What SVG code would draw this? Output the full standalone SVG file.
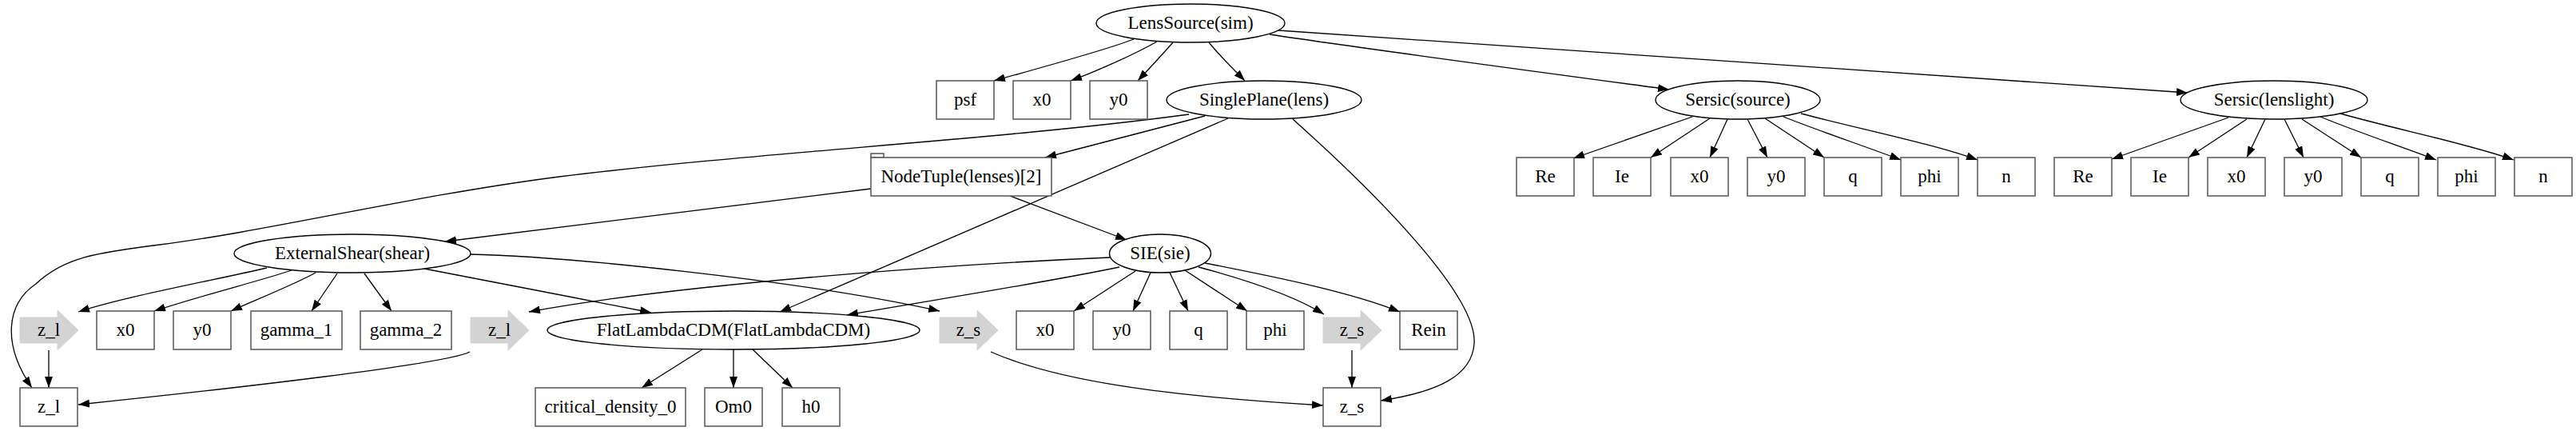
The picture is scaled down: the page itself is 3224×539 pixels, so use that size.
<svg xmlns="http://www.w3.org/2000/svg" width="3224" height="539" viewBox="0 0 3224 539">
<defs>
<marker id="ah" viewBox="0 0 14 10" refX="14" refY="5" markerWidth="14" markerHeight="10" markerUnits="userSpaceOnUse" orient="auto">
<path d="M0,0 L14,5 L0,10 z" fill="#000"/>
</marker>
<style>
.e{fill:none;stroke:#000;stroke-width:1.3;marker-end:url(#ah)}
.b{fill:#fff;stroke:#555;stroke-width:1.5}
.el{fill:#fff;stroke:#000;stroke-width:1.4}
.ra{fill:#d3d3d3;stroke:#d3d3d3;stroke-width:1}
text{font-family:"Liberation Serif","Times New Roman",serif;font-size:23px;text-anchor:middle;fill:#000}
</style>
</defs>
<rect width="3224" height="539" fill="#fff"/>
<g id="connectors">
<path class="e" d="M1419,49 C1380,64 1290,88 1244,101"/>
<path class="e" d="M1448,52 C1420,68 1370,90 1340,101"/>
<path class="e" d="M1468,53 C1455,68 1438,86 1424,101"/>
<path class="e" d="M1513,53 C1525,68 1545,88 1558,101"/>
<path class="e" d="M1589,43 C1700,60 1950,93 2089,112"/>
<path class="e" d="M1600,38 C1900,58 2400,93 2738,116"/>
<path class="e" d="M1508,145 L1308,197"/>
<path class="e" d="M1537,148 L976,390"/>
<path class="e" d="M1488,143 C1250,175 950,190 700,221 C520,244 330,290 200,306 C120,316 80,322 45,355 C8,380 2,430 40,485"/>
<path class="e" d="M1618,149 C1720,240 1850,370 1845,430 C1842,470 1800,490 1728,501"/>
<path class="e" d="M1090,236 L557,302"/>
<path class="e" d="M1264,245 L1410,300"/>
<path class="e" d="M334,335 C270,350 160,370 98,390"/>
<path class="e" d="M365,338 C330,350 250,370 193,389"/>
<path class="e" d="M395,341 C370,355 320,375 289,389"/>
<path class="e" d="M422,342 L390,389"/>
<path class="e" d="M456,342 L490,389"/>
<path class="e" d="M531,336 C600,350 720,372 815,391"/>
<path class="e" d="M587,318 C700,320 1000,350 1176,389"/>
<path class="e" d="M1389,322 C1200,330 850,355 662,390"/>
<path class="e" d="M1401,334 C1300,355 1150,378 1060,394"/>
<path class="e" d="M1421,339 L1344,389"/>
<path class="e" d="M1440,341 L1418,389"/>
<path class="e" d="M1464,341 L1487,389"/>
<path class="e" d="M1483,338 L1561,389"/>
<path class="e" d="M1500,334 C1560,350 1620,370 1657,393"/>
<path class="e" d="M1508,329 C1590,345 1690,365 1752,390"/>
<path class="e" d="M61,438 L61,485"/>
<path class="e" d="M588,440 C560,455 300,485 98,506"/>
<path class="e" d="M1240,440 C1320,475 1450,495 1656,507"/>
<path class="e" d="M1692,438 L1692,485"/>
<path class="e" d="M879,437 L803,485"/>
<path class="e" d="M918,437 L918,485"/>
<path class="e" d="M942,437 L992,485"/>
<path class="e" d="M2118,146 L1969,198"/>
<path class="e" d="M2140,148 L2066,197"/>
<path class="e" d="M2162,149 L2140,197"/>
<path class="e" d="M2187,149 L2212,197"/>
<path class="e" d="M2209,148 L2283,197"/>
<path class="e" d="M2232,146 C2280,165 2340,185 2379,200"/>
<path class="e" d="M2254,142 C2330,162 2420,180 2475,200"/>
<path class="e" d="M2789,147 L2643,199"/>
<path class="e" d="M2812,149 L2739,197"/>
<path class="e" d="M2835,149 L2812,197"/>
<path class="e" d="M2859,149 L2883,197"/>
<path class="e" d="M2881,149 L2955,197"/>
<path class="e" d="M2904,146 C2950,165 3010,185 3049,200"/>
<path class="e" d="M2929,142 C3000,162 3090,180 3146,200"/>
</g>
<g id="n_lenssource"><ellipse class="el" cx="1490" cy="29" rx="118" ry="24"/><text x="1490" y="36">LensSource(sim)</text></g>
<g id="n_psf"><rect class="b" x="1172" y="101" width="72" height="48"/><text x="1208" y="132">psf</text></g>
<g id="n_x0"><rect class="b" x="1268" y="101" width="72" height="48"/><text x="1304" y="132">x0</text></g>
<g id="n_y0"><rect class="b" x="1364" y="101" width="72" height="48"/><text x="1400" y="132">y0</text></g>
<g id="n_singleplane"><ellipse class="el" cx="1582" cy="125" rx="122" ry="24"/><text x="1582" y="132">SinglePlane(lens)</text></g>
<g id="n_sersic_source"><ellipse class="el" cx="2175" cy="125" rx="103" ry="24"/><text x="2175" y="132">Sersic(source)</text></g>
<g id="n_sersic_lenslight"><ellipse class="el" cx="2846" cy="125" rx="117" ry="24"/><text x="2846" y="132">Sersic(lenslight)</text></g>
<g id="n_nodetuple"><rect class="b" x="1090" y="192" width="16" height="5"/><rect class="b" x="1090" y="197" width="226" height="48"/><text x="1203" y="228">NodeTuple(lenses)[2]</text></g>
<g id="n_src_Re"><rect class="b" x="1898" y="197" width="72" height="48"/><text x="1934" y="228">Re</text></g>
<g id="n_src_Ie"><rect class="b" x="1994" y="197" width="72" height="48"/><text x="2030" y="228">Ie</text></g>
<g id="n_src_x0"><rect class="b" x="2091" y="197" width="72" height="48"/><text x="2127" y="228">x0</text></g>
<g id="n_src_y0"><rect class="b" x="2187" y="197" width="72" height="48"/><text x="2223" y="228">y0</text></g>
<g id="n_src_q"><rect class="b" x="2283" y="197" width="72" height="48"/><text x="2319" y="228">q</text></g>
<g id="n_src_phi"><rect class="b" x="2379" y="197" width="72" height="48"/><text x="2415" y="228">phi</text></g>
<g id="n_src_n"><rect class="b" x="2475" y="197" width="72" height="48"/><text x="2511" y="228">n</text></g>
<g id="n_ll_Re"><rect class="b" x="2571" y="197" width="72" height="48"/><text x="2607" y="228">Re</text></g>
<g id="n_ll_Ie"><rect class="b" x="2667" y="197" width="72" height="48"/><text x="2703" y="228">Ie</text></g>
<g id="n_ll_x0"><rect class="b" x="2763" y="197" width="72" height="48"/><text x="2799" y="228">x0</text></g>
<g id="n_ll_y0"><rect class="b" x="2859" y="197" width="72" height="48"/><text x="2895" y="228">y0</text></g>
<g id="n_ll_q"><rect class="b" x="2955" y="197" width="72" height="48"/><text x="2991" y="228">q</text></g>
<g id="n_ll_phi"><rect class="b" x="3051" y="197" width="72" height="48"/><text x="3087" y="228">phi</text></g>
<g id="n_ll_n"><rect class="b" x="3147" y="197" width="72" height="48"/><text x="3183" y="228">n</text></g>
<g id="n_shear"><ellipse class="el" cx="441" cy="317" rx="148" ry="24"/><text x="441" y="324">ExternalShear(shear)</text></g>
<g id="n_sie"><ellipse class="el" cx="1452" cy="317" rx="63.5" ry="24"/><text x="1452" y="324">SIE(sie)</text></g>
<g id="n_shear_zl"><polygon class="ra" points="25,397 72,397 72,388 98,413 72,438 72,429 25,429"/><text x="61" y="420">z_l</text></g>
<g id="n_shear_x0"><rect class="b" x="121" y="389" width="72" height="48"/><text x="157" y="420">x0</text></g>
<g id="n_shear_y0"><rect class="b" x="217" y="389" width="72" height="48"/><text x="253" y="420">y0</text></g>
<g id="n_gamma1"><rect class="b" x="314" y="389" width="114" height="48"/><text x="371" y="420">gamma_1</text></g>
<g id="n_gamma2"><rect class="b" x="451" y="389" width="114" height="48"/><text x="508" y="420">gamma_2</text></g>
<g id="n_sie_zl"><polygon class="ra" points="589,397 636,397 636,388 662,413 636,438 636,429 589,429"/><text x="625" y="420">z_l</text></g>
<g id="n_cosmo"><ellipse class="el" cx="918" cy="413" rx="233" ry="24"/><text x="918" y="420">FlatLambdaCDM(FlatLambdaCDM)</text></g>
<g id="n_shear_zs"><polygon class="ra" points="1176,397 1223,397 1223,388 1249,413 1223,438 1223,429 1176,429"/><text x="1212" y="420">z_s</text></g>
<g id="n_sie_x0"><rect class="b" x="1272" y="389" width="72" height="48"/><text x="1308" y="420">x0</text></g>
<g id="n_sie_y0"><rect class="b" x="1368" y="389" width="72" height="48"/><text x="1404" y="420">y0</text></g>
<g id="n_sie_q"><rect class="b" x="1464" y="389" width="72" height="48"/><text x="1500" y="420">q</text></g>
<g id="n_sie_phi"><rect class="b" x="1560" y="389" width="72" height="48"/><text x="1596" y="420">phi</text></g>
<g id="n_sie_zs"><polygon class="ra" points="1656,397 1703,397 1703,388 1729,413 1703,438 1703,429 1656,429"/><text x="1692" y="420">z_s</text></g>
<g id="n_rein"><rect class="b" x="1752" y="389" width="72" height="48"/><text x="1788" y="420">Rein</text></g>
<g id="n_zl"><rect class="b" x="25" y="485" width="72" height="48"/><text x="61" y="516">z_l</text></g>
<g id="n_crit"><rect class="b" x="670" y="485" width="188" height="48"/><text x="764" y="516">critical_density_0</text></g>
<g id="n_om0"><rect class="b" x="882" y="485" width="72" height="48"/><text x="918" y="516">Om0</text></g>
<g id="n_h0"><rect class="b" x="979" y="485" width="72" height="48"/><text x="1015" y="516">h0</text></g>
<g id="n_zs"><rect class="b" x="1656" y="485" width="72" height="48"/><text x="1692" y="516">z_s</text></g>
</svg>
